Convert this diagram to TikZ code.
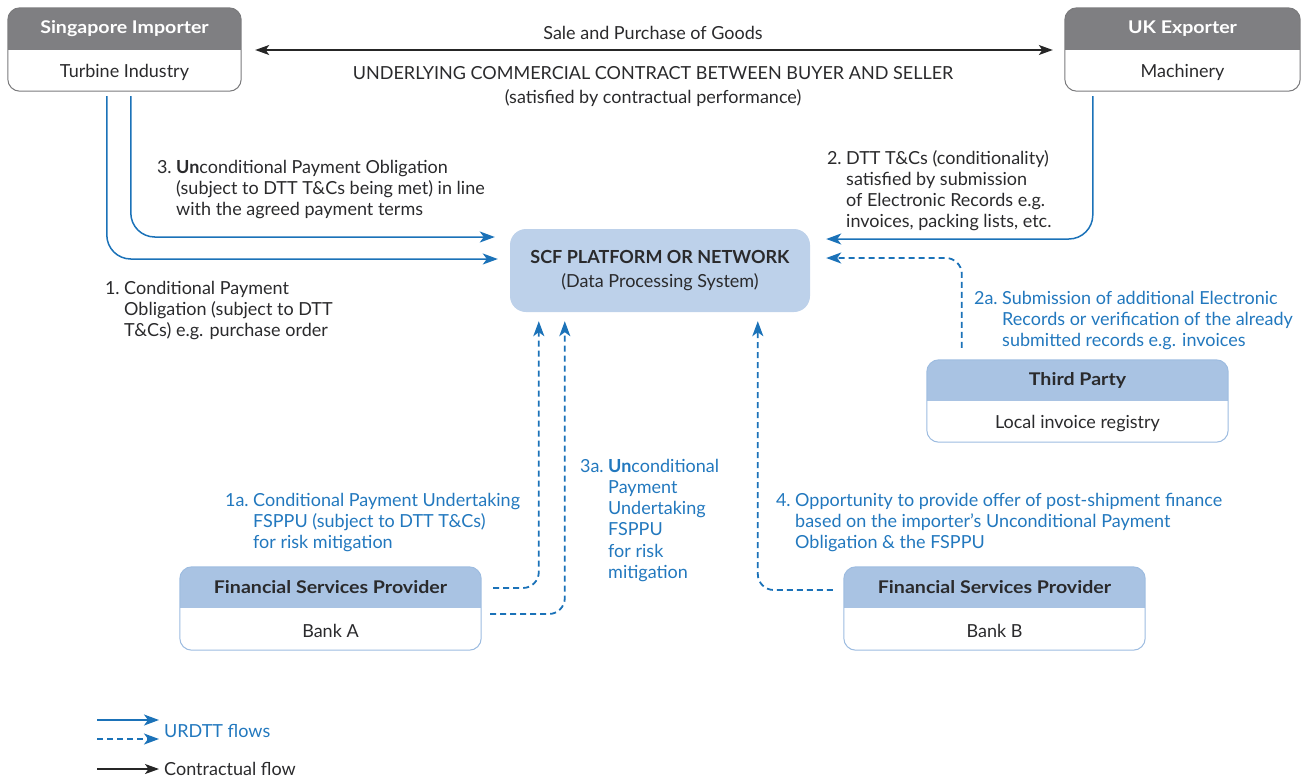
\documentclass[tikz,border=0pt]{standalone}
\usepackage{fontspec}
\setmainfont{Lato}
\newfontfamily\headfont[FakeStretch=1.12]{Lato Bold}
\usetikzlibrary{arrows.meta,calc}
\definecolor{hdrgray}{HTML}{7F7F82}
\definecolor{flowblue}{HTML}{1B72B8}
\definecolor{txtblue}{HTML}{2278BE}
\definecolor{scfblue}{HTML}{BDD1EA}
\definecolor{hdrblue}{HTML}{A9C3E3}
\definecolor{txtdark}{HTML}{2A2A2C}
\definecolor{grayline}{HTML}{7A7A7C}
\definecolor{blueline}{HTML}{9DBCE0}
\newcommand\numl[1]{\llap{#1\hspace{4.5pt}}}
\tikzset{
  base/.style={font=\fontsize{18}{21.3}\selectfont, text=txtdark, inner sep=0pt},
  lbl/.style={base, anchor=base west},
  blbl/.style={lbl, text=txtblue},
  graybox/.style={draw=grayline, line width=1pt, rounded corners=12},
  bluebox/.style={draw=blueline, line width=1pt, rounded corners=12},
  grayhead/.style={fill=hdrgray},
  bluehead/.style={fill=hdrblue},
  grayhtext/.style={base, text=white, font=\fontsize{17.5}{21.3}\headfont},
  bluehtext/.style={base, font=\fontsize{17.5}{21.3}\headfont},
  tipb/.tip={Stealth[length=15pt,width=11pt,inset=4pt]},
  tipk/.tip={Stealth[length=14pt,width=10pt,inset=3.5pt]},
  flow/.style={draw=flowblue, line width=1.5pt, rounded corners=24, -tipb},
  dflow/.style={flow, line width=1.8pt, dash pattern=on 6pt off 4pt, rounded corners=16},
  contract/.style={draw=black!85, line width=1.3pt, tipk-tipk},
  kflow/.style={draw=black!85, line width=1.3pt, -tipk},
  scfstyle/.style={base, fill=scfblue, rounded corners=16, minimum width=300pt, minimum height=83pt, align=center, font=\fontsize{18}{24}\selectfont},
}
% name, cx, cy, width, height, header height, kind, header text, body text
\newcommand\twobox[9]{%
  \node[minimum width=#4pt, minimum height=#5pt, inner sep=0pt] (#1) at (#2,#3) {};
  \begin{scope}
    \clip[rounded corners=12] (#1.south west) rectangle (#1.north east);
    \fill[#7head] (#1.north west) rectangle ($(#1.north east)+(0,#6)$);
  \end{scope}
  \draw[#7box] (#1.south west) rectangle (#1.north east);
  \node[#7htext] (#1h) at ($(#1.north)+(0,0.5*#6)$) {#8};
  \node[base] (#1b) at ($(#1.south)+(0,-0.5*#5+0.5*#6+1.5)$) {#9};
}
\begin{document}
\begin{tikzpicture}[x=1pt,y=-1pt]
\useasboundingbox (0,0) rectangle (1308,780);

% boxes
\twobox{imp}{124.5}{49.5}{233}{83}{42}{gray}{Singapore Importer}{Turbine Industry}
\twobox{uk}{1182.5}{49.5}{235}{83}{42}{gray}{UK Exporter}{Machinery}
\twobox{tp}{1077.5}{401}{301}{82}{41}{blue}{Third Party}{Local invoice registry}
\twobox{bka}{330.5}{608.5}{301}{83}{41}{blue}{Financial Services Provider}{Bank A}
\twobox{bkb}{994.5}{608.5}{301}{83}{41}{blue}{Financial Services Provider}{Bank B}
\node[scfstyle] (scf) at (660,270.5) {\textbf{SCF PLATFORM OR NETWORK}\\(Data Processing System)};

% contract
\draw[contract] ($(imp.east)+(14,0.5)$) -- ($(uk.west)+(-12,0.5)$);
\node[base] (sale) at (653,33) {Sale and Purchase of Goods};
\node[base] (ucc) at (653,73) {UNDERLYING COMMERCIAL CONTRACT BETWEEN BUYER AND SELLER};
\node[base] (sat) at (653,98) {(satisfied by contractual performance)};

% URDTT flows
\draw[flow] ($(imp.south west)+(123,5)$) |- ($(scf.west)+(-15,-33.5)$);
\draw[flow] ($(imp.south west)+(99,5)$) |- ($(scf.west)+(-12,-11.5)$);
\draw[flow] ($(uk.south west)+(28,5)$) |- ($(scf.east)+(16,-31.5)$);
\draw[dflow] ($(tp.north west)+(35,-12)$) |- ($(scf.east)+(16,-12.5)$);
\draw[dflow] ($(bka.east)+(12,-20.5)$) -| ($(scf.south west)+(29,9)$);
\draw[dflow] ($(bka.east)+(9,5.5)$) -| ($(scf.south west)+(55,9)$);
\draw[dflow] ($(bkb.west)+(-11,-18.5)$) -| ($(scf.south west)+(248,9)$);

% labels
\node[lbl] (l3) at (176,173) {\begin{tabular}[t]{@{}l@{}}\numl{3.}\textbf{Un}conditional Payment Obligation\\ (subject to DTT T\&Cs being met) in line\\ with the agreed payment terms\end{tabular}};
\node[lbl] (l1) at (124,294) {\begin{tabular}[t]{@{}l@{}}\numl{1.}Conditional Payment\\ Obligation (subject to DTT\\ T\&Cs) e.g. purchase order\end{tabular}};
\node[lbl] (l2) at (846,164) {\begin{tabular}[t]{@{}l@{}}\numl{2.}DTT T\&Cs (conditionality)\\ satisfied by submission\\ of Electronic Records e.g.\\ invoices, packing lists, etc.\end{tabular}};
\node[blbl] (l2a) at (1002,304) {\begin{tabular}[t]{@{}l@{}}\numl{2a.}Submission of additional Electronic\\ Records or verification of the already\\ submitted records e.g. invoices\end{tabular}};
\node[blbl] (l1a) at (253,506) {\begin{tabular}[t]{@{}l@{}}\numl{1a.}Conditional Payment Undertaking\\ FSPPU (subject to DTT T\&Cs)\\ for risk mitigation\end{tabular}};
\node[blbl] (l3a) at (608,472) {\begin{tabular}[t]{@{}l@{}}\numl{3a.}\textbf{Un}conditional\\ Payment\\ Undertaking\\ FSPPU\\ for risk\\ mitigation\end{tabular}};
\node[blbl] (l4) at (795,506) {\begin{tabular}[t]{@{}l@{}}\numl{4.}Opportunity to provide offer of post-shipment finance\\ based on the importer’s Unconditional Payment\\ Obligation \& the FSPPU\end{tabular}};

% legend
\coordinate (g1s) at (97,720); \coordinate (g1e) at (159,720);
\coordinate (g2s) at (97,739); \coordinate (g2e) at (159,739);
\coordinate (g3s) at (97,769); \coordinate (g3e) at (159,769);
\draw[flow] (g1s) -- (g1e);
\draw[dflow] (g2s) -- (g2e);
\draw[kflow] (g3s) -- (g3e);
\node[blbl, anchor=west] (lg1) at (164,731) {URDTT flows};
\node[lbl, anchor=west] (lg2) at (164,769) {Contractual flow};
\end{tikzpicture}
\end{document}
